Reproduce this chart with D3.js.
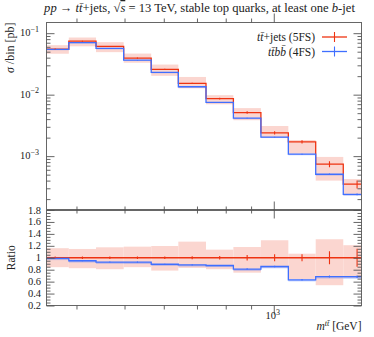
<!DOCTYPE html>
<html><head><meta charset="utf-8">
<script src="https://cdn.jsdelivr.net/npm/d3@7"></script>
<style>body{margin:0;background:#fff}svg{display:block}text{font-family:"Liberation Serif","DejaVu Serif",serif;fill:#222}</style>
</head><body>
<svg id="c" width="374" height="337"></svg>
<script>
// ---- data ----
const binEdges = [340, 386, 438, 498, 566, 642, 730, 829, 942, 1070, 1215, 1381, 1570];
const xsec5FS  = [0.0550, 0.0741, 0.0608, 0.0393, 0.0258, 0.01528, 0.00863, 0.00512, 0.00239, 0.00171, 0.000741, 0.000350];
const xsec4FS  = [0.0545, 0.0704, 0.0564, 0.0364, 0.0230, 0.01345, 0.00751, 0.00415, 0.00204, 0.001077, 0.000507, 0.000239];
const band5FSHi = [1.16, 1.147, 1.175, 1.186, 1.197, 1.27, 1.136, 1.18, 1.293, 1.068, 1.31, 1.21];
const band5FSLo = [0.842, 0.825, 0.808, 0.842, 0.785, 0.83, 0.808, 0.75, 0.836, 0.64, 0.54, 0.663];
const stat5FS  = [0.02, 0.02, 0.02, 0.02, 0.02, 0.025, 0.03, 0.045, 0.06, 0.06, 0.11, 0.15];
const stat4FS  = [0.01, 0.01, 0.01, 0.01, 0.01, 0.01, 0.01, 0.015, 0.015, 0.02, 0.025, 0.03];
const xMajorTicks = [1000];
const xMinorTicks = [400, 500, 600, 700, 800, 900];
const yMajorTicks = [1e-1, 1e-2, 1e-3];
const rMajorTicks = [0.2, 0.4, 0.6, 0.8, 1.0, 1.2, 1.4, 1.6, 1.8];

const RED = "#ee3311", BLUE = "#3f6fff", BAND = "#fbd6d0";
const svg = d3.select("#c");
const L = 46.5, R = 361.5, T = 22.5, M = 210, B = 305.5;

const x = d3.scaleLog().domain([348, 1503]).range([L, R]);
const y = d3.scaleLog().domain([1.33e-4, 0.1492]).range([M, T]);
const r = d3.scaleLinear().domain([0.2, 1.8]).range([B, M]);

const defs = svg.append("defs");
defs.append("clipPath").attr("id","cpTop").append("rect").attr("x",L).attr("y",T).attr("width",R-L).attr("height",M-T);
defs.append("clipPath").attr("id","cpRat").append("rect").attr("x",L).attr("y",M).attr("width",R-L).attr("height",B-M);

const bins = xsec5FS.map((v,i)=>({x0:binEdges[i], x1:binEdges[i+1], xc:Math.sqrt(binEdges[i]*binEdges[i+1]),
  red:v, blue:xsec4FS[i], hi:band5FSHi[i], lo:band5FSLo[i], sr:stat5FS[i], sb:stat4FS[i]}));

function stepPts(vals){ const p = vals.map((v,i)=>[binEdges[i], v]); p.push([binEdges[vals.length], vals[vals.length-1]]); return p; }

// ---- top panel ----
const gt = svg.append("g").attr("clip-path","url(#cpTop)");
gt.selectAll("rect.band").data(bins).join("rect").attr("class","band")
  .attr("x",d=>x(d.x0)).attr("width",d=>x(d.x1)-x(d.x0))
  .attr("y",d=>y(d.red*d.hi)).attr("height",d=>y(d.red*d.lo)-y(d.red*d.hi)).attr("fill",BAND);
gt.selectAll("rect.bband").data(bins).join("rect").attr("class","bband")
  .attr("x",d=>x(d.x0)).attr("width",d=>x(d.x1)-x(d.x0))
  .attr("y",d=>y(d.blue)).attr("height",d=>y(d.blue*(1-d.sb-0.02))-y(d.blue)).attr("fill",BLUE).attr("opacity",0.35);
const lineTop = d3.line().x(d=>x(d[0])).y(d=>y(d[1])).curve(d3.curveStepAfter);
gt.append("path").attr("d",lineTop(stepPts(xsec5FS))).attr("fill","none").attr("stroke",RED).attr("stroke-width",1.3);
gt.append("path").attr("d",lineTop(stepPts(xsec4FS))).attr("fill","none").attr("stroke",BLUE).attr("stroke-width",1.3);
gt.selectAll("line.er").data(bins).join("line").attr("class","er")
  .attr("x1",d=>x(d.xc)).attr("x2",d=>x(d.xc)).attr("y1",d=>y(d.red*(1+d.sr))).attr("y2",d=>y(d.red*(1-d.sr))).attr("stroke",RED).attr("stroke-width",1.1);
gt.selectAll("line.eb").data(bins).join("line").attr("class","eb")
  .attr("x1",d=>x(d.xc)).attr("x2",d=>x(d.xc)).attr("y1",d=>y(d.blue*(1+d.sb))).attr("y2",d=>y(d.blue*(1-d.sb))).attr("stroke",BLUE).attr("stroke-width",1.1);

// ---- ratio panel ----
const gr = svg.append("g").attr("clip-path","url(#cpRat)");
gr.selectAll("rect.band").data(bins).join("rect").attr("class","band")
  .attr("x",d=>x(d.x0)).attr("width",d=>x(d.x1)-x(d.x0))
  .attr("y",d=>r(d.hi)).attr("height",d=>r(d.lo)-r(d.hi)).attr("fill",BAND);
gr.selectAll("rect.bband").data(bins).join("rect").attr("class","bband")
  .attr("x",d=>x(d.x0)).attr("width",d=>x(d.x1)-x(d.x0))
  .attr("y",d=>r(d.blue/d.red)).attr("height",d=>r(d.blue/d.red*(1-d.sb-0.02))-r(d.blue/d.red)).attr("fill",BLUE).attr("opacity",0.35);
const lineRat = d3.line().x(d=>x(d[0])).y(d=>r(d[1])).curve(d3.curveStepAfter);
gr.append("path").attr("d",lineRat(stepPts(xsec5FS.map(()=>1)))).attr("fill","none").attr("stroke",RED).attr("stroke-width",1.3);
gr.append("path").attr("d",lineRat(stepPts(xsec4FS.map((v,i)=>v/xsec5FS[i])))).attr("fill","none").attr("stroke",BLUE).attr("stroke-width",1.3);
gr.selectAll("line.er").data(bins).join("line").attr("class","er")
  .attr("x1",d=>x(d.xc)).attr("x2",d=>x(d.xc)).attr("y1",d=>r(1+d.sr)).attr("y2",d=>r(1-d.sr)).attr("stroke",RED).attr("stroke-width",1.1);
gr.selectAll("line.eb").data(bins).join("line").attr("class","eb")
  .attr("x1",d=>x(d.xc)).attr("x2",d=>x(d.xc)).attr("y1",d=>r(d.blue/d.red*(1+d.sb))).attr("y2",d=>r(d.blue/d.red*(1-d.sb))).attr("stroke",BLUE).attr("stroke-width",1.1);

// ---- frames ----
const FR = "#666";
svg.append("rect").attr("x",L).attr("y",T).attr("width",R-L).attr("height",M-0.5-T).attr("fill","none").attr("stroke",FR).attr("stroke-width",1);
svg.append("rect").attr("x",L).attr("y",M+0.5).attr("width",R-L).attr("height",B-M-0.5).attr("fill","none").attr("stroke",FR).attr("stroke-width",1);

// ---- axes (ticks inward) ----
function ax(gen, tr, size, vals){
  const g = svg.append("g").attr("transform",tr).call(gen.tickValues(vals).tickSize(size).tickFormat(""));
  g.select(".domain").remove();
  g.selectAll("line").attr("stroke","#555").attr("stroke-width",0.9);
  return g;
}
const yMinor = [];
[1e-4,1e-3,1e-2,1e-1].forEach(d=>{ for(let k=2;k<=9;k++){ const v=d*k; if(v>1.33e-4 && v<0.1492) yMinor.push(v);} });
const rMinor = d3.range(0.25,1.8,0.05).filter(v=>Math.abs(v*5-Math.round(v*5))>1e-6);
[[d3.axisBottom, T],[d3.axisTop, M-0.5],[d3.axisBottom, M+0.5],[d3.axisTop, B]].forEach(([f,yy])=>{
  ax(f(x), `translate(0,${yy})`, -4, xMinorTicks);
  ax(f(x), `translate(0,${yy})`, -9, xMajorTicks);
});
ax(d3.axisLeft(y), `translate(${L},0)`, -8, yMajorTicks);
ax(d3.axisLeft(y), `translate(${L},0)`, -4, yMinor);
ax(d3.axisRight(y), `translate(${R},0)`, -8, yMajorTicks);
ax(d3.axisRight(y), `translate(${R},0)`, -4, yMinor);
ax(d3.axisLeft(r), `translate(${L},0)`, -8, rMajorTicks);
ax(d3.axisLeft(r), `translate(${L},0)`, -4, rMinor);
ax(d3.axisRight(r), `translate(${R},0)`, -8, rMajorTicks);
ax(d3.axisRight(r), `translate(${R},0)`, -4, rMinor);

// ---- tick labels ----
yMajorTicks.forEach(v=>{
  const t = svg.append("text").attr("x",39).attr("y",y(v)+3.3).attr("text-anchor","end").attr("font-size",10.5);
  t.append("tspan").text("10");
  t.append("tspan").attr("dy",-4.5).attr("font-size",8).text("\u2212" + Math.round(-Math.log10(v)));
});
rMajorTicks.forEach(v=>{
  svg.append("text").attr("x",41).attr("y",r(v)+3.5).attr("text-anchor","end").attr("font-size",10.5)
    .text(Math.abs(v-1)<1e-9 ? "1" : d3.format(".1f")(v));
});
xMajorTicks.forEach(v=>{
  const t = svg.append("text").attr("x",x(v)-1).attr("y",319).attr("text-anchor","middle").attr("font-size",10.5);
  t.append("tspan").text("10");
  t.append("tspan").attr("dy",-4.5).attr("font-size",8).text(Math.round(Math.log10(v)));
});

// ---- axis titles ----
const xl = svg.append("text").attr("x",R).attr("y",330).attr("text-anchor","end").attr("font-size",11.5);
xl.append("tspan").attr("font-style","italic").text("m");
xl.append("tspan").attr("font-style","italic").attr("dy",-4.5).attr("font-size",8).text("tt\u0304");
xl.append("tspan").attr("dy",4.5).text(" [GeV]");

const yl = svg.append("text").attr("transform",`translate(14,${T}) rotate(-90)`).attr("text-anchor","end").attr("font-size",12);
yl.append("tspan").attr("font-style","italic").text("\u03C3");
yl.append("tspan").text(" /bin [pb]");
svg.append("text").attr("transform",`translate(14.5,${r(1)}) rotate(-90)`).attr("text-anchor","middle").attr("font-size",11.5).text("Ratio");

// ---- title ----
const tt = svg.append("text").attr("x",199.5).attr("y",12).attr("text-anchor","middle").attr("font-size",12.6);
tt.append("tspan").attr("font-style","italic").text("pp");
tt.append("tspan").text(" \u2192 ");
tt.append("tspan").attr("font-style","italic").text("tt\u0304");
tt.append("tspan").text("+jets, \u221A");
tt.append("tspan").attr("font-style","italic").attr("text-decoration","overline").text("s");
tt.append("tspan").text(" = 13 TeV, stable top quarks, at least one ");
tt.append("tspan").attr("font-style","italic").text("b");
tt.append("tspan").text("-jet");

// ---- legend ----
const legend = [
  {parts:[["tt\u0304",true],["+jets (5FS)",false]], color:RED},
  {parts:[["tt\u0304bb\u0304",true],[" (4FS)",false]], color:BLUE}
];
legend.forEach((d,i)=>{
  const yy = 41 + i*14.5;
  const t = svg.append("text").attr("x",315).attr("y",yy).attr("text-anchor","end").attr("font-size",11.5);
  d.parts.forEach(p=>t.append("tspan").attr("font-style",p[1]?"italic":"normal").text(p[0]));
  svg.append("line").attr("x1",322).attr("x2",347).attr("y1",yy-4).attr("y2",yy-4).attr("stroke",d.color).attr("stroke-width",1.3);
  svg.append("line").attr("x1",334.5).attr("x2",334.5).attr("y1",yy-9).attr("y2",yy+1).attr("stroke",d.color).attr("stroke-width",1.1);
});
</script>
</body></html>
